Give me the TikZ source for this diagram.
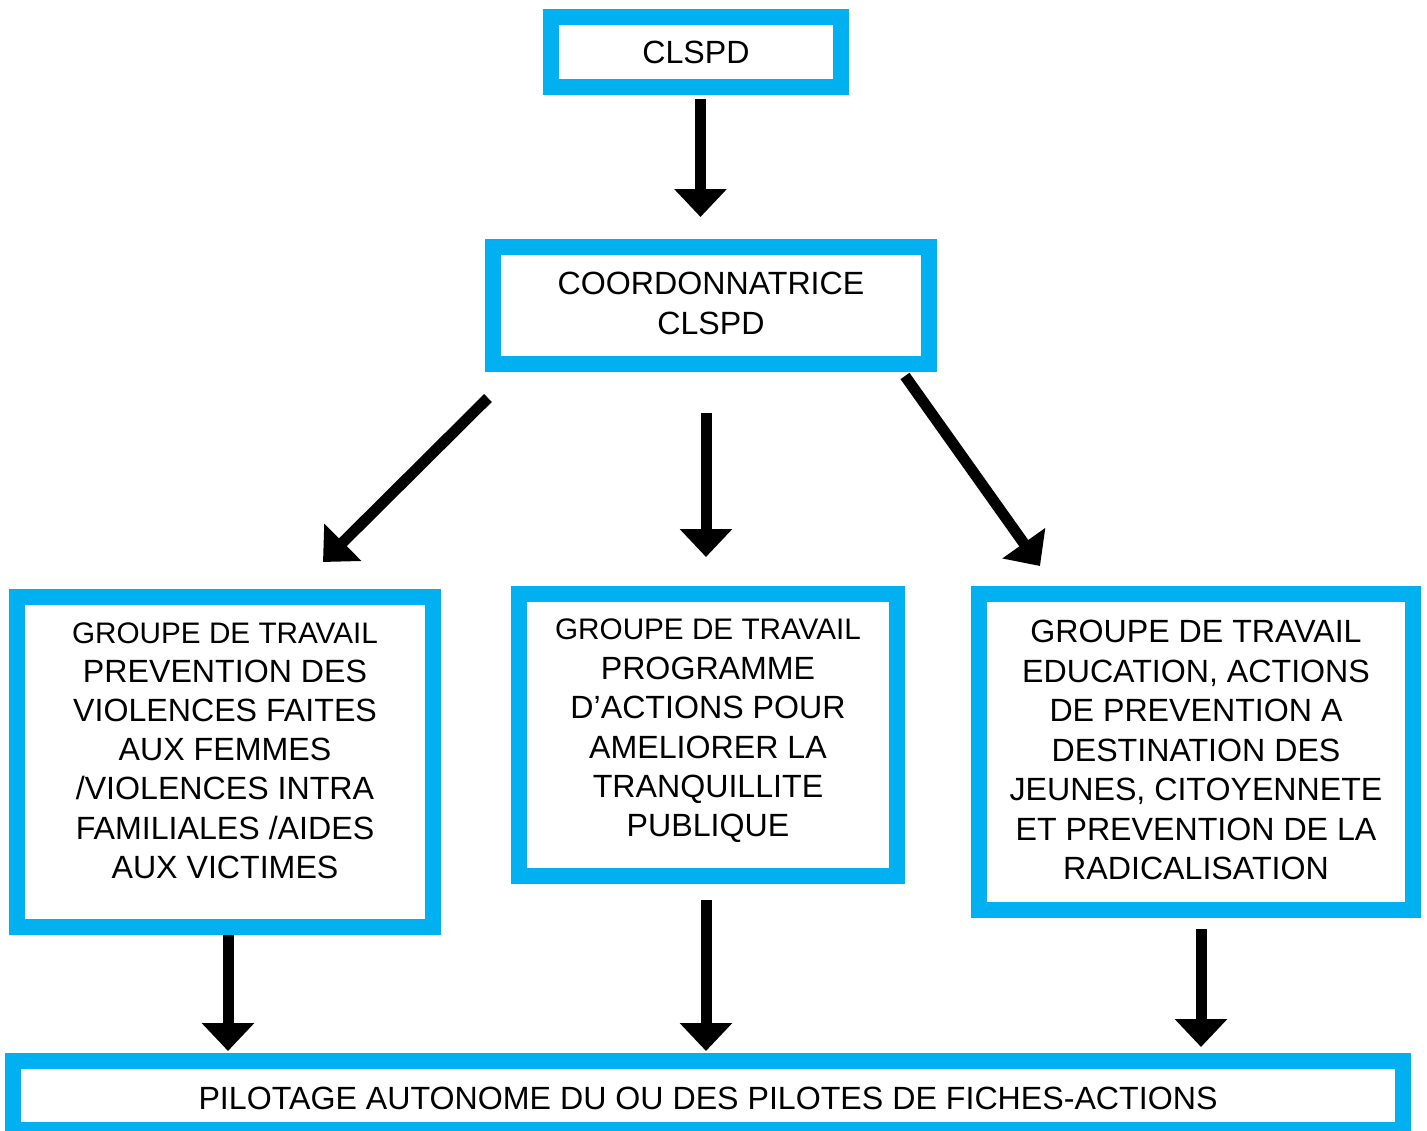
\documentclass[tikz,border=0pt]{standalone}
\usepackage{fontspec}
\setmainfont{Liberation Sans}
\usetikzlibrary{arrows.meta}
\definecolor{boxblue}{HTML}{00B0F0}
\begin{document}
\begin{tikzpicture}[x=0.02cm,y=-0.02cm,
  bluebox/.style={draw=boxblue,line width=0.32cm,fill=white,rectangle,inner sep=0pt,outer sep=0pt},
  txt/.style={align=center,inner sep=0pt,font=\fontsize{18.3}{22.5}\selectfont},
  bigarrow/.style={line width=0.22cm,-{Triangle[width=1.02cm,length=0.56cm]}}]
\useasboundingbox[fill=white] (0,0) rectangle (1427,1130);
\begin{scope}
\clip (0,0) rectangle (1427,1130);
% boxes (border centre lines)
\node[bluebox,minimum width=5.8cm,minimum height=1.4cm] (b1) at (696,52) {};
\node[bluebox,minimum width=8.72cm,minimum height=2.34cm] (b2) at (711,305.5) {};
\node[bluebox,minimum width=8.32cm,minimum height=6.6cm] (b3) at (225,762) {};
\node[bluebox,minimum width=7.56cm,minimum height=5.64cm] (b4) at (708,735) {};
\node[bluebox,minimum width=8.68cm,minimum height=6.32cm] (b5) at (1196,752) {};
\node[bluebox,minimum width=27.8cm,minimum height=1.38cm] (b6) at (708,1095.5) {};
\end{scope}
% texts
\node[txt] (t1) at (696,52) {CLSPD};
\node[txt] (t2) at (711,303.5) {COORDONNATRICE\\CLSPD};
\node[txt,font=\fontsize{18.3}{22.3}\selectfont] (t3) at (225,750.5) {{\fontsize{16.9}{22.3}\selectfont GROUPE DE TRAVAIL}\\PREVENTION DES\\VIOLENCES FAITES\\AUX FEMMES\\/VIOLENCES INTRA\\FAMILIALES /AIDES\\AUX VICTIMES};
\node[txt,font=\fontsize{18.3}{22.4}\selectfont] (t4) at (708,731) {{\fontsize{16.9}{22.4}\selectfont GROUPE DE TRAVAIL}\\PROGRAMME\\D’ACTIONS POUR\\AMELIORER LA\\TRANQUILLITE\\PUBLIQUE};
\node[txt] (t5) at (1196,750) {GROUPE DE TRAVAIL\\EDUCATION, ACTIONS\\DE PREVENTION A\\DESTINATION DES\\JEUNES, CITOYENNETE\\ET PREVENTION DE LA\\RADICALISATION};
\node[txt] (t6) at (708,1098) {PILOTAGE AUTONOME DU OU DES PILOTES DE FICHES-ACTIONS};
% arrow end points
\coordinate (a1s) at (700.5,99);   \coordinate (a1e) at (700.5,217);
\coordinate (a2s) at (488,398);    \coordinate (a2e) at (323,562);
\coordinate (a3s) at (706,413);    \coordinate (a3e) at (706,557);
\coordinate (a4s) at (905,376);    \coordinate (a4e) at (1040,566);
\coordinate (a5s) at (228,935);    \coordinate (a5e) at (228,1051);
\coordinate (a6s) at (706,900);    \coordinate (a6e) at (706,1051);
\coordinate (a7s) at (1201,929);   \coordinate (a7e) at (1201,1047);
\draw[bigarrow] (a1s) -- (a1e);
\draw[bigarrow] (a2s) -- (a2e);
\draw[bigarrow] (a3s) -- (a3e);
\draw[bigarrow] (a4s) -- (a4e);
\draw[bigarrow] (a5s) -- (a5e);
\draw[bigarrow] (a6s) -- (a6e);
\draw[bigarrow] (a7s) -- (a7e);
\end{tikzpicture}
\end{document}
